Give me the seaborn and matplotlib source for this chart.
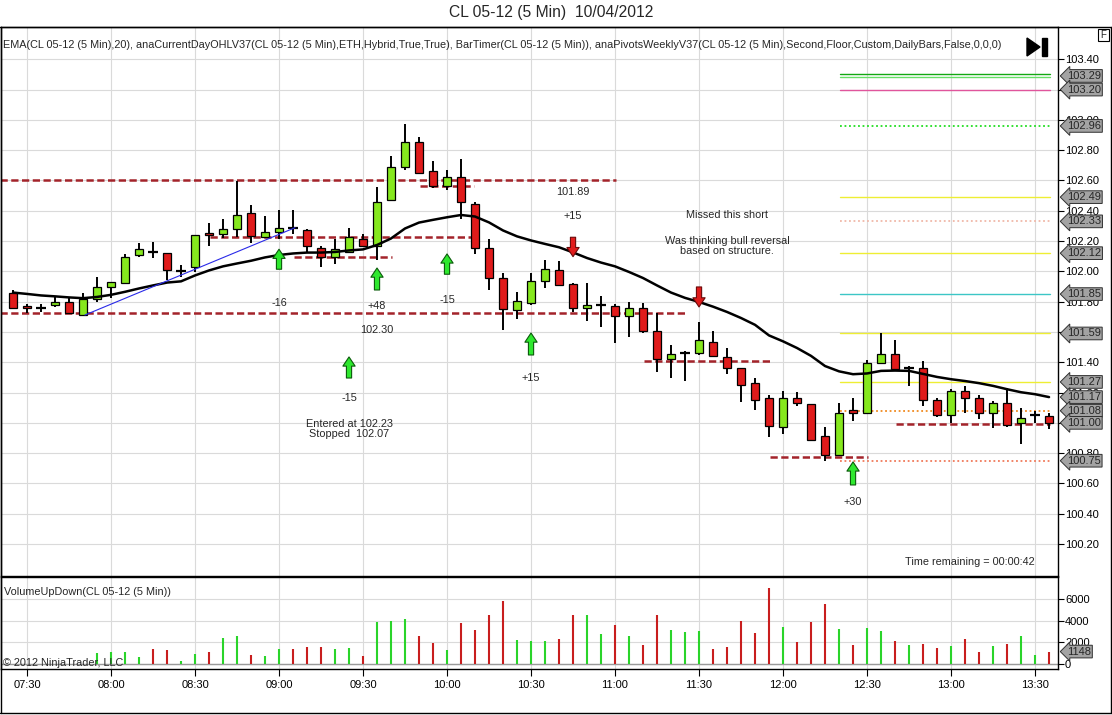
import numpy as np
import pandas as pd
import matplotlib
matplotlib.use("Agg")
import matplotlib.pyplot as plt
import seaborn as sns
from matplotlib.patches import Rectangle, Polygon
from matplotlib.transforms import blended_transform_factory

# CL 05-12, 5 minute bars, 07:25 .. 13:35
times = list(pd.date_range("2012-04-10 07:25", "2012-04-10 13:35", freq="5min").strftime("%H:%M"))

opens = [101.855, 101.771, 101.756, 101.776, 101.801, 101.712, 101.816, 101.900, 101.920, 102.108,
         102.128, 102.123, 102.004, 102.029, 102.256, 102.247, 102.277, 102.385, 102.227, 102.257,
         102.286, 102.276, 102.152, 102.098, 102.128, 102.212, 102.167, 102.469, 102.687, 102.855,
         102.662, 102.563, 102.623, 102.445, 102.152, 101.954, 101.742, 101.791, 101.935, 102.009,
         101.915, 101.757, 101.776, 101.771, 101.707, 101.756, 101.603, 101.420, 101.464, 101.459,
         101.534, 101.434, 101.360, 101.261, 101.162, 100.974, 101.167, 101.123, 100.915, 100.786,
         101.088, 101.063, 101.395, 101.454, 101.360, 101.360, 101.152, 101.054, 101.207, 101.162,
         101.064, 101.128, 100.999, 101.049, 101.044]
highs = [101.875, 101.786, 101.786, 101.836, 101.826, 101.855, 101.964, 101.930, 102.113, 102.187,
         102.192, 102.123, 102.039, 102.242, 102.316, 102.346, 102.598, 102.435, 102.366, 102.406,
         102.406, 102.281, 102.167, 102.212, 102.286, 102.246, 102.554, 102.761, 102.975, 102.885,
         102.727, 102.672, 102.742, 102.455, 102.212, 101.989, 101.865, 101.989, 102.073, 102.068,
         101.925, 101.925, 101.836, 101.786, 101.796, 101.791, 101.722, 101.514, 101.474, 101.663,
         101.608, 101.494, 101.360, 101.296, 101.182, 101.212, 101.202, 101.123, 100.974, 101.128,
         101.167, 101.415, 101.593, 101.549, 101.375, 101.405, 101.162, 101.222, 101.242, 101.182,
         101.143, 101.227, 101.098, 101.078, 101.068]
lows = [101.756, 101.727, 101.731, 101.766, 101.717, 101.712, 101.801, 101.826, 101.920, 102.098,
        102.088, 101.945, 101.964, 101.999, 102.167, 102.217, 102.227, 102.187, 102.222, 102.212,
        102.247, 102.123, 102.029, 102.048, 102.128, 102.167, 102.078, 102.465, 102.672, 102.643,
        102.553, 102.534, 102.346, 102.113, 101.880, 101.613, 101.687, 101.776, 101.890, 101.905,
        101.732, 101.672, 101.633, 101.529, 101.568, 101.593, 101.336, 101.296, 101.276, 101.449,
        101.434, 101.321, 101.138, 101.088, 100.905, 100.925, 101.112, 100.880, 100.747, 100.786,
        101.014, 101.063, 101.395, 101.346, 101.241, 101.113, 101.039, 100.999, 101.068, 101.024,
        100.964, 100.974, 100.860, 100.999, 100.959]
closes = [101.756, 101.761, 101.756, 101.796, 101.722, 101.816, 101.895, 101.930, 102.093, 102.148,
          102.128, 102.009, 102.004, 102.242, 102.237, 102.277, 102.375, 102.232, 102.257, 102.286,
          102.286, 102.167, 102.093, 102.148, 102.227, 102.167, 102.455, 102.687, 102.855, 102.652,
          102.563, 102.623, 102.455, 102.152, 101.959, 101.751, 101.806, 101.935, 102.014, 101.910,
          101.761, 101.776, 101.776, 101.707, 101.761, 101.608, 101.420, 101.454, 101.464, 101.549,
          101.439, 101.365, 101.251, 101.152, 100.979, 101.162, 101.133, 100.890, 100.791, 101.068,
          101.068, 101.395, 101.454, 101.356, 101.360, 101.152, 101.049, 101.212, 101.162, 101.064,
          101.128, 100.989, 101.029, 101.049, 101.000]
ema20 = [101.860, 101.851, 101.841, 101.835, 101.828, 101.823, 101.831, 101.845, 101.865, 101.887,
         101.907, 101.926, 101.934, 101.973, 102.006, 102.033, 102.052, 102.070, 102.092, 102.108,
         102.118, 102.124, 102.124, 102.128, 102.138, 102.145, 102.174, 102.217, 102.283, 102.322,
         102.340, 102.357, 102.372, 102.362, 102.323, 102.270, 102.231, 102.204, 102.181, 102.159,
         102.125, 102.088, 102.058, 102.033, 101.996, 101.956, 101.907, 101.860, 101.825, 101.798,
         101.767, 101.732, 101.692, 101.647, 101.577, 101.538, 101.494, 101.442, 101.375, 101.340,
         101.321, 101.326, 101.343, 101.345, 101.343, 101.323, 101.303, 101.288, 101.276, 101.262,
         101.244, 101.222, 101.202, 101.189, 101.170]

# VolumeUpDown (no volume on the first six bars)
volume = [np.nan] * 6 + [
    1000, 1100, 1100, 670, 1400, 1310, 300, 940, 1125, 2400, 2585, 850, 760, 1400, 1400, 1580, 1580,
    1400, 1490, 760, 3860, 3950, 4165, 2585, 1945, 1310, 3770, 3130, 4500, 5775, 2220, 2130, 2130,
    2285, 4480, 4480, 2740, 3565, 2560, 1735, 4570, 3105, 2925, 3015, 1370, 1555, 3930, 2830, 7035,
    3380, 2010, 3840, 5575, 3200, 1735, 3290, 3015, 2100, 1735, 1830, 1460, 1645, 2285, 1100, 1645,
    1830, 2560, 820, 1148]
volume_up = [0] * 6 + [
    1, 1, 1, 1, 0, 0, 1, 1, 0, 1, 1, 0, 1, 1, 0, 0, 0, 1, 1, 0, 1, 1, 1, 0, 0, 1, 0, 0, 0, 0, 1, 1, 1,
    0, 0, 1, 1, 0, 1, 0, 0, 1, 1, 1, 0, 0, 0, 0, 0, 1, 0, 0, 0, 1, 0, 1, 1, 0, 1, 0, 0, 1, 0, 0, 1,
    0, 1, 1, 0]

# drawn levels: price, first bar, last bar
level_price = [102.603, 101.724, 102.229, 102.097, 102.563, 101.409, 100.774, 100.990]
level_from = [-0.9, -0.9, 14.1, 20.1, 29.1, 45.1, 54.1, 63.1]
level_to = [43.1, 48.1, 33.1, 27.1, 32.9, 54.1, 61.1, 74.1]

# weekly pivots (drawn on the right part of the chart)
pivot_price = [103.300, 103.285, 103.20, 102.96, 102.49, 102.33, 102.12, 101.85, 101.59, 101.27, 101.08, 100.75]
pivot_color = ['#12a812', '#66e066', '#e0559c', '#22dd22', '#eeee33', '#f0b8a8', '#eeee33',
               '#3cc6c6', '#eeee33', '#eeee33', '#f08a20', '#f07a5a']
pivot_dotted = [0, 0, 0, 1, 0, 1, 0, 0, 0, 0, 1, 1]

price_labels = ['103.29', '103.20', '102.96', '102.49', '102.33', '102.12', '101.85', '101.59',
                '101.27', '101.17', '101.08', '101.00', '100.75']

# trade arrows
up_bar = [19, 26, 31, 24, 37, 60]
up_tail = [102.014, 101.877, 101.981, 101.296, 101.448, 100.590]
up_tip = [102.146, 102.022, 102.115, 101.435, 101.593, 100.742]
down_bar = [40, 49]
down_tail = [102.225, 101.897]
down_tip = [102.097, 101.765]

note_bar = [19, 26, 26, 31, 24, 24, 37, 40, 40, 51, 51, 60]
note_price = [101.791, 101.772, 101.613, 101.811, 101.164, 100.958, 101.294, 102.524, 102.366,
              102.372, 102.168, 100.476]
note_text = ['-16', '+48', '102.30', '-15', '-15', 'Entered at 102.23\nStopped  102.07', '+15',
             '101.89', '+15', 'Missed this short', 'Was thinking bull reversal\nbased on structure.', '+30']

trend_bar = [5.14, 20.14]
trend_price = [101.712, 102.288]

df = pd.DataFrame({'time': times, 'open': opens, 'high': highs, 'low': lows,
                   'close': closes, 'ema': ema20, 'volume': volume, 'up': volume_up})
df['i'] = np.arange(len(df))

sns.set_theme(style='white')
plt.rcParams['font.family'] = ['Liberation Sans', 'DejaVu Sans']

W, H = 1112, 715
fig = plt.figure(figsize=(W / 100, H / 100), dpi=100)
fig.patch.set_facecolor('white')


def fbox(x0, y0, x1, y1):
    return [x0 / W, 1 - y1 / H, (x1 - x0) / W, (y1 - y0) / H]


ax = fig.add_axes(fbox(1, 27, 1058, 576))
axv = fig.add_axes(fbox(1, 576.7, 1058, 669.3), sharex=ax)

GREEN, RED = '#86e81e', '#e01b1b'
tick_idx = [t for t in df['i'] if df['time'][t].endswith(':00') or df['time'][t].endswith(':30')]

# candles
for r in df.itertuples():
    ax.vlines(r.i, r.low, r.high, color='black', lw=1.4, zorder=3)
    if abs(r.close - r.open) < 1e-6:
        ax.hlines(r.close, r.i - 0.33, r.i + 0.33, color='black', lw=1.6, zorder=4)
    else:
        col = GREEN if r.close > r.open else RED
        ax.add_patch(Rectangle((r.i - 0.3, min(r.open, r.close)), 0.6, abs(r.close - r.open),
                               fc=col, ec='black', lw=0.9, zorder=4))

sns.lineplot(data=df, x='i', y='ema', color='black', lw=1.8, ax=ax, zorder=5)
ax.plot(trend_bar, trend_price, color='#2a2ae8', lw=0.8, zorder=5)

for p, a, b in zip(level_price, level_from, level_to):
    ax.plot([a, b], [p, p], color='#a3232a', lw=1.8, ls=(0, (2.9, 1.4)), zorder=2)

for p, c, d in zip(pivot_price, pivot_color, pivot_dotted):
    ax.plot([59.1, 74.1], [p, p], color=c, lw=1.0 if not d else 1.3,
            ls=(0, (1, 1.5)) if d else '-', zorder=2)

arrow_style = 'simple,head_length=0.6,head_width=0.8,tail_width=0.34'
for b, t0, t1 in zip(up_bar, up_tail, up_tip):
    ax.annotate('', xy=(b, t1), xytext=(b, t0),
                arrowprops=dict(arrowstyle=arrow_style, fc='#2ee82e', ec='#0b5a0b', lw=0.8,
                                mutation_scale=11, shrinkA=0, shrinkB=0), zorder=6)
for b, t0, t1 in zip(down_bar, down_tail, down_tip):
    ax.annotate('', xy=(b, t1), xytext=(b, t0),
                arrowprops=dict(arrowstyle=arrow_style, fc='#e01b1b', ec='#6a0a0a', lw=0.8,
                                mutation_scale=11, shrinkA=0, shrinkB=0), zorder=6)

for b, p, t in zip(note_bar, note_price, note_text):
    ax.text(b, p, t, ha='center', va='center', fontsize=7.8, linespacing=1.05, zorder=7)
ax.text(72.95, 100.082, 'Time remaining = 00:00:42', ha='right', va='center', fontsize=7.8)

ax.set_xlim(-0.857, 74.64)
ax.set_ylim(99.989, 103.613)
ax.set_yticks(np.round(np.arange(100.2, 103.41, 0.2), 2))
ax.yaxis.set_major_formatter(plt.FormatStrFormatter('%.2f'))
ax.yaxis.tick_right()
ax.tick_params(axis='y', direction='out', length=4, width=0.8, pad=1, labelsize=8, colors='black',
               right=True)
ax.set_xticks(tick_idx)
ax.tick_params(axis='x', length=0, labelbottom=False)
ax.grid(True, color='#dadada', lw=0.8)
ax.set_axisbelow(True)
ax.set_xlabel('')
ax.set_ylabel('')
for s in ax.spines.values():
    s.set_color('black')
    s.set_linewidth(1.0)

# price markers on the right axis (they sit over the tick labels, as in NinjaTrader)
tr = blended_transform_factory(ax.transAxes, ax.transData)
for lab in price_labels:
    ax.text(1.0085, float(lab), lab, transform=tr, ha='left', va='center', fontsize=8, clip_on=False,
            zorder=10, bbox=dict(boxstyle='larrow,pad=0.12', fc='#a3a3a3', ec='#303030', lw=0.7))

# volume panel
vcol = ['#2ad42a' if u else '#c81e1e' for u in df['up']]
axv.vlines(df['i'], 0, df['volume'], colors=vcol, lw=1.5, zorder=3)
axv.axhline(0, color='#9a9a9a', lw=1.0, zorder=2)
axv.set_ylim(-489, 8060)
axv.set_yticks([0, 2000, 4000, 6000])
axv.yaxis.tick_right()
axv.tick_params(axis='y', direction='out', length=4, width=0.8, pad=1, labelsize=8, colors='black',
                right=True)
axv.set_xticks(tick_idx)
axv.set_xticklabels([df['time'][t] for t in tick_idx])
axv.tick_params(axis='x', direction='out', length=5, width=0.8, pad=3, labelsize=8, colors='black',
                bottom=True)
axv.grid(True, color='#dadada', lw=0.8)
axv.set_axisbelow(True)
for s in axv.spines.values():
    s.set_color('black')
    s.set_linewidth(1.0)
trv = blended_transform_factory(axv.transAxes, axv.transData)
axv.text(1.0085, 1148, '1148', transform=trv, ha='left', va='center', fontsize=8, clip_on=False,
         zorder=10, bbox=dict(boxstyle='larrow,pad=0.12', fc='#a3a3a3', ec='#303030', lw=0.7))
axv.text(0.003, 0.84, 'VolumeUpDown(CL 05-12 (5 Min))', transform=axv.transAxes, fontsize=7.8,
         va='center', ha='left')
axv.text(0.002, 0.065, '\u00a9 2012 NinjaTrader, LLC', transform=axv.transAxes, fontsize=7.8,
         va='center', ha='left', zorder=8)

# frame, title, header and chart trader decorations
ov = fig.add_axes([0, 0, 1, 1], zorder=20)
ov.set_xlim(0, W)
ov.set_ylim(H, 0)
ov.axis('off')
ov.patch.set_alpha(0)
ov.plot([0, W], [27, 27], color='black', lw=1.0)
ov.plot([0.8, 0.8], [27, 713], color='black', lw=1.0)
ov.plot([0, 1110.5], [713, 713], color='black', lw=1.0)
ov.plot([1110.5, 1110.5], [27, 713], color='black', lw=1.0)
ov.add_patch(Polygon([[1027, 38], [1027, 56], [1040, 47]], closed=True, fc='black', ec='black'))
ov.add_patch(Rectangle((1042, 38), 5, 18, fc='black', ec='black'))
ov.add_patch(Rectangle((1098, 29), 11, 12, fc='white', ec='black', lw=0.8))
ov.text(1103.5, 35.5, 'F', ha='center', va='center', fontsize=7)

title = ov.text(551, 13, 'CL 05-12 (5 Min)  10/04/2012', ha='center', va='center', fontsize=10.5)
header = ov.text(3, 45, 'EMA(CL 05-12 (5 Min),20), anaCurrentDayOHLV37(CL 05-12 (5 Min),ETH,Hybrid,True,True), '
                 'BarTimer(CL 05-12 (5 Min)), anaPivotsWeeklyV37(CL 05-12 (5 Min),Second,Floor,Custom,'
                 'DailyBars,False,0,0,0)', ha='left', va='center', fontsize=8)

# fit header and title widths to the reference
fig.canvas.draw()
rend = fig.canvas.get_renderer()
w = header.get_window_extent(rend).width
header.set_fontsize(8 * 1000 / w)
w = title.get_window_extent(rend).width
title.set_fontsize(10.5 * 206 / w)

fig.savefig('out.png', dpi=100)
